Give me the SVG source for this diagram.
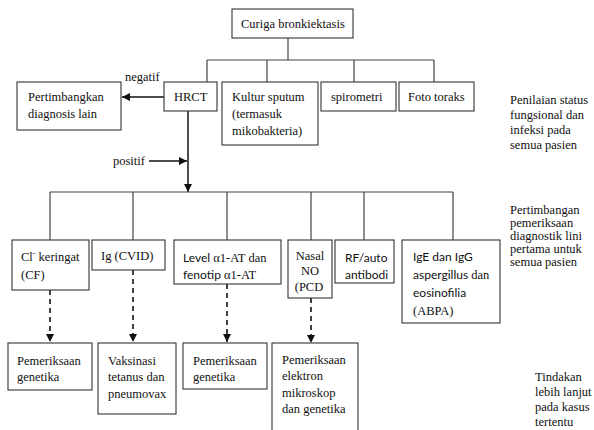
<svg xmlns="http://www.w3.org/2000/svg" width="594" height="430" viewBox="0 0 594 430">
<defs>
<style>
.box{fill:#fff;stroke:#333;stroke-width:1.1}
.t{font-family:'Liberation Serif','Times New Roman',serif;font-size:12.5px;fill:#111}
.s{font-family:Lato,'Liberation Sans',sans-serif;font-size:12px;fill:#111}
.ln{fill:none;stroke:#444;stroke-width:1.2}
.ar{fill:none;stroke:#111;stroke-width:1.5}
.da{fill:none;stroke:#111;stroke-width:1.6;stroke-dasharray:5 4}
</style>
<marker id="ah" viewBox="0 0 10 10" refX="10" refY="5" markerWidth="8" markerHeight="8" markerUnits="userSpaceOnUse" orient="auto">
<path d="M0,0 L10,5 L0,10 z" fill="#111"/>
</marker>
</defs>
<rect width="594" height="430" fill="#fff"/>

<g id="connectors">
<path class="ln" d="M288,38 V60 M207,60 H434 M207,60 V82 M267,60 V82 M354,60 V82 M434,60 V82"/>
<path class="ar" d="M164,97 H122" marker-end="url(#ah)"/>
<path class="ar" d="M188,111 V192" marker-end="url(#ah)"/>
<path class="ar" d="M149,161 H187" marker-end="url(#ah)"/>
<path class="ln" d="M50,192 H453 M50,192 V240 M133,192 V240 M227,192 V240 M311,192 V240 M364,192 V240 M453,192 V240"/>
<path class="da" d="M50,290 V342" marker-end="url(#ah)"/>
<path class="da" d="M133,270 V342" marker-end="url(#ah)"/>
<path class="da" d="M227,284 V342" marker-end="url(#ah)"/>
<path class="da" d="M311,298 V343" marker-end="url(#ah)"/>
<text class="t" x="125" y="81">negatif</text>
<text class="t" x="113" y="165">positif</text>
</g>

<g id="n-curiga"><rect class="box" x="232" y="9" width="121" height="29"/><text class="t" x="241" y="28">Curiga bronkiektasis</text></g>
<g id="n-hrct"><rect class="box" x="164" y="82" width="53" height="29"/><text class="t" x="174" y="101">HRCT</text></g>
<g id="n-pertimbangkan"><rect class="box" x="17" y="82" width="104" height="48"/><text class="t" x="28" y="101">Pertimbangkan</text><text class="t" x="28" y="118">diagnosis lain</text></g>
<g id="n-kultur"><rect class="box" x="222" y="82" width="96" height="63"/><text class="t" x="232" y="101">Kultur sputum</text><text class="t" x="232" y="118">(termasuk</text><text class="t" x="232" y="135">mikobakteria)</text></g>
<g id="n-spirometri"><rect class="box" x="321" y="82" width="75" height="29"/><text class="t" x="331" y="101">spirometri</text></g>
<g id="n-foto"><rect class="box" x="399" y="82" width="75" height="29"/><text class="t" x="408" y="101">Foto toraks</text></g>

<g id="n-cl"><rect class="box" x="12" y="240" width="77" height="50"/><text class="t" x="21" y="261">Cl<tspan dy="-5" font-size="8">-</tspan><tspan dy="5"> keringat</tspan></text><text class="t" x="21" y="279">(CF)</text></g>
<g id="n-ig"><rect class="box" x="92" y="240" width="73" height="30"/><text class="t" x="101" y="260">Ig (CVID)</text></g>
<g id="n-level"><rect class="box" x="174" y="240" width="107" height="44"/><text class="t" x="183" y="262"><tspan class="s">Level</tspan> α1-AT  dan</text><text class="t" x="183" y="279"><tspan class="s">fenotip</tspan> α1-AT</text></g>
<g id="n-nasal"><rect class="box" x="288" y="240" width="44" height="58"/><text class="t" x="310" y="260" text-anchor="middle">Nasal</text><text class="t" x="310" y="275" text-anchor="middle">NO</text><text class="t" x="309" y="291" text-anchor="middle">(PCD</text></g>
<g id="n-rf"><rect class="box" x="335" y="240" width="59" height="43"/><text class="s" x="345" y="262">RF/auto</text><text class="s" x="345" y="279">antibodi</text></g>
<g id="n-ige"><rect class="box" x="402" y="240" width="98" height="83"/><text class="s" x="413" y="261">IgE dan IgG</text><text class="s" x="413" y="279">aspergillus<tspan class="t"> dan</tspan></text><text class="s" x="413" y="297">eosinofilia</text><text class="t" x="413" y="315">(ABPA)</text></g>

<g id="n-gen1"><rect class="box" x="8" y="343" width="84" height="47"/><text class="t" x="17" y="365">Pemeriksaan</text><text class="t" x="17" y="381">genetika</text></g>
<g id="n-vaks"><rect class="box" x="98" y="343" width="78" height="71"/><text class="t" x="108" y="365">Vaksinasi</text><text class="t" x="108" y="381">tetanus dan</text><text class="t" x="108" y="398">pneumovax</text></g>
<g id="n-gen2"><rect class="box" x="183" y="343" width="84" height="46"/><text class="t" x="193" y="365">Pemeriksaan</text><text class="t" x="193" y="381">genetika</text></g>
<g id="n-elektron"><rect class="box" x="272" y="343" width="86" height="100"/><text class="t" x="282" y="364">Pemeriksaan</text><text class="t" x="282" y="380">elektron</text><text class="t" x="282" y="397">mikroskop</text><text class="t" x="282" y="413">dan genetika</text></g>

<g id="side-labels">
<text class="t" x="510" y="104">Penilaian status</text>
<text class="t" x="510" y="119">fungsional dan</text>
<text class="t" x="510" y="134">infeksi pada</text>
<text class="t" x="510" y="149">semua pasien</text>
<text class="t" x="510" y="214" font-size="12">Pertimbangan</text>
<text class="t" x="510" y="227" font-size="12">pemeriksaan</text>
<text class="t" x="510" y="240" font-size="12">diagnostik lini</text>
<text class="t" x="510" y="253" font-size="12">pertama untuk</text>
<text class="t" x="510" y="266" font-size="12">semua pasien</text>
<text class="t" x="535" y="381">Tindakan</text>
<text class="t" x="535" y="396">lebih lanjut</text>
<text class="t" x="535" y="411">pada kasus</text>
<text class="t" x="535" y="426">tertentu</text>
</g>
</svg>
